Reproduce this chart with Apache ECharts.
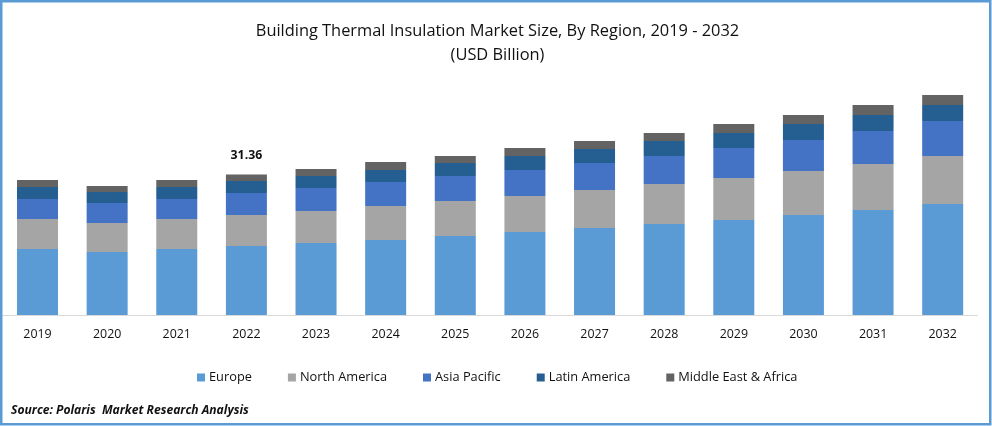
<!DOCTYPE html>
<html><head><meta charset="utf-8">
<style>html,body{margin:0;padding:0;background:#fff}#c{width:992px;height:426px}</style>
<script src="https://cdn.jsdelivr.net/npm/echarts@6/dist/echarts.min.js"></script>
</head><body><div id="c"></div>
<script>
const years = ['2019','2020','2021','2022','2023','2024','2025','2026','2027','2028','2029','2030','2031','2032'];
const europe = [14.73,14.06,14.73,15.40,16.07,16.74,17.63,18.53,19.42,20.31,21.21,22.32,23.44,24.78];
const northAmerica = [6.70,6.47,6.70,6.92,7.14,7.59,7.81,8.04,8.48,8.93,9.38,9.82,10.27,10.71];
const asiaPacific = [4.46,4.46,4.46,4.91,5.13,5.36,5.58,5.80,6.03,6.25,6.70,6.92,7.37,7.81];
const latinAmerica = [2.68,2.46,2.68,2.68,2.68,2.68,2.90,3.13,3.13,3.35,3.35,3.57,3.57,3.57];
const middleEast = [1.56,1.34,1.56,1.45,1.56,1.79,1.56,1.79,1.79,1.79,2.01,2.01,2.23,2.23];
const annotatedYear = '2022';
const annotatedTotal = '31.36';
const font = '"Open Sans"';
const mk = (name, data, color) => ({name, type:'bar', stack:'t', data, barWidth:41, itemStyle:{color}, animation:false});
const topSeries = mk('Middle East & Africa', middleEast.map((v,i)=> years[i]===annotatedYear
  ? {value:v, label:{show:true, position:'top', distance:13, formatter:annotatedTotal, fontFamily:font, fontWeight:'bold', fontSize:12.3, color:'#111'}} : v), '#636363');
const chart = echarts.init(document.getElementById('c'), null, {renderer:'canvas'});
chart.setOption({
  animation:false,
  backgroundColor:'#fff',
  title:[
    {text:'Building Thermal Insulation Market Size, By Region, 2019 - 2032\n(USD Billion)', left:492.5, top:14, textAlign:'center',
     textStyle:{fontFamily:font, fontWeight:'normal', fontSize:16.4, lineHeight:24, color:'#111'}},
    {text:'Source: Polaris  Market Research Analysis', left:6, top:400,
     textStyle:{fontFamily:font, fontWeight:'bold', fontStyle:'italic', fontSize:12.1, color:'#111'}}
  ],
  grid:{left:2.7, width:974.8, top:91, height:224},
  xAxis:{type:'category', data:years, axisTick:{show:false},
    axisLine:{lineStyle:{color:'#D9D9D9', width:1}},
    axisLabel:{fontFamily:font, fontSize:12.4, color:'#111', margin:13}},
  yAxis:{type:'value', min:0, max:50, show:false, splitLine:{show:false}},
  legend:{left:192, top:366, itemWidth:8, itemHeight:8, itemGap:36, icon:'rect',
    textStyle:{fontFamily:font, fontSize:12.8, color:'#111', padding:[0,0,0,-1]}},
  graphic:[{type:'rect', silent:true, z:100, shape:{x:1.25,y:1.25,width:989,height:423},
    style:{fill:'none', stroke:'#5B9BD5', lineWidth:2.5}}],
  series:[
    mk('Europe', europe, '#5B9BD5'),
    mk('North America', northAmerica, '#A5A5A5'),
    mk('Asia Pacific', asiaPacific, '#4472C4'),
    mk('Latin America', latinAmerica, '#255E91'),
    topSeries
  ]
});
</script></body></html>
